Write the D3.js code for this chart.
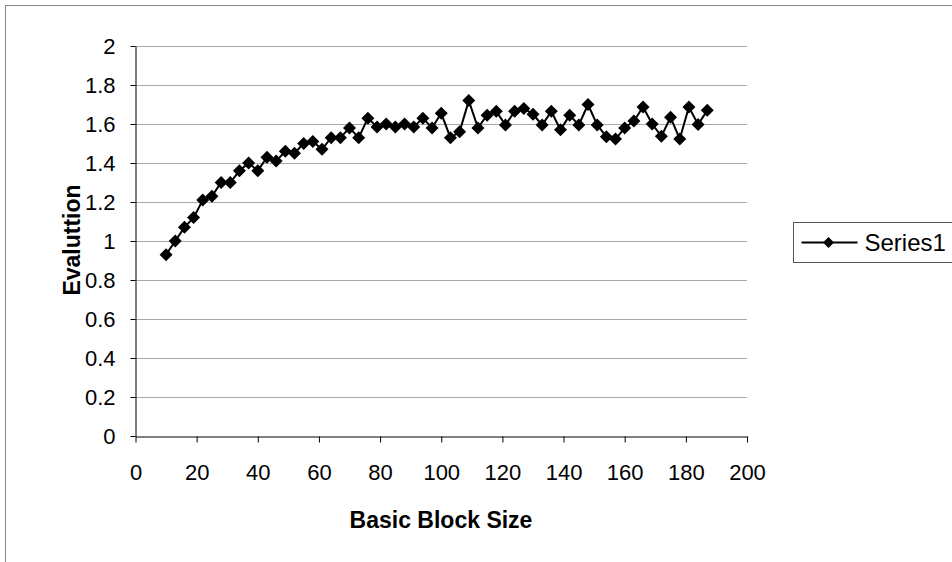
<!DOCTYPE html>
<html>
<head>
<meta charset="utf-8">
<script src="https://cdn.jsdelivr.net/npm/d3@7"></script>
<style>
  body { margin: 0; background: #fff; }
  text { font-family: "Liberation Sans", Arial, sans-serif; fill: #000; }
</style>
</head>
<body>
<div id="chart"></div>
<script>
// block sizes (x) and evaluation values (y)
var blockSizes = [10, 13, 16, 19, 22, 25, 28, 31, 34, 37, 40, 43, 46, 49, 52, 55, 58, 61, 64, 67,
  70, 73, 76, 79, 82, 85, 88, 91, 94, 97, 100, 103, 106, 109, 112, 115, 118, 121, 124, 127,
  130, 133, 136, 139, 142, 145, 148, 151, 154, 157, 160, 163, 166, 169, 172, 175, 178, 181, 184, 187];
var evaluation = [0.93, 1.00, 1.07, 1.12, 1.21, 1.23, 1.30, 1.30, 1.36, 1.40, 1.36, 1.43, 1.41, 1.46, 1.45, 1.50, 1.51, 1.47, 1.53, 1.53,
  1.58, 1.53, 1.63, 1.585, 1.60, 1.585, 1.60, 1.585, 1.63, 1.58, 1.655, 1.53, 1.56, 1.72, 1.58, 1.645, 1.665, 1.595, 1.665, 1.68,
  1.65, 1.595, 1.665, 1.57, 1.645, 1.595, 1.70, 1.595, 1.535, 1.523, 1.58, 1.615, 1.687, 1.60, 1.537, 1.634, 1.523, 1.687, 1.597, 1.67];
var xTicks = [0, 20, 40, 60, 80, 100, 120, 140, 160, 180, 200];
var yTicks = [0, 0.2, 0.4, 0.6, 0.8, 1, 1.2, 1.4, 1.6, 1.8, 2];
var seriesName = "Series1";

var width = 952, height = 562;
var data = blockSizes.map((x, i) => ({ x: x, y: evaluation[i] }));

var svg = d3.select("#chart").append("svg")
  .attr("width", width).attr("height", height);

// outer chart border
svg.append("rect")
  .attr("x", 5.5).attr("y", 5.5)
  .attr("width", width + 10).attr("height", height + 10)
  .attr("fill", "none").attr("stroke", "#888").attr("stroke-width", 1);

var xScale = d3.scaleLinear().domain([0, 200]).range([135.5, 747]);
var yScale = d3.scaleLinear().domain([0, 2]).range([436, 46]);

// gridlines
svg.append("g")
  .selectAll("line")
  .data(yTicks.slice(1))
  .enter().append("line")
  .attr("x1", xScale(0)).attr("x2", xScale(200))
  .attr("y1", d => Math.round(yScale(d)) + 0.5)
  .attr("y2", d => Math.round(yScale(d)) + 0.5)
  .attr("stroke", "#a8a8a8").attr("stroke-width", 1);

/* axes */
var xAxis = d3.axisBottom(xScale).tickValues(xTicks).tickSize(6).tickSizeOuter(0).tickPadding(22);
var yAxis = d3.axisLeft(yScale).tickValues(yTicks).tickFormat(d => String(d))
  .tickSize(5).tickSizeOuter(0).tickPadding(15);

var gx = svg.append("g").attr("transform", "translate(0,436.5)").call(xAxis);
var gy = svg.append("g").attr("transform", "translate(135.5,0)").call(yAxis);
[gx, gy].forEach(g => {
  g.select(".domain").attr("stroke", "#000");
  g.selectAll(".tick line").attr("stroke", "#000");
  g.selectAll("text").style("font-size", "22px").attr("fill", "#000");
});
gy.selectAll(".tick text").attr("dy", "0.36em");

// axis titles
svg.append("text")
  .attr("x", 441).attr("y", 528)
  .attr("text-anchor", "middle")
  .style("font-size", "23px").style("font-weight", "bold")
  .text("Basic Block Size");

svg.append("text")
  .attr("transform", "translate(80,240) rotate(-90)")
  .attr("text-anchor", "middle")
  .style("font-size", "23px").style("font-weight", "bold")
  .text("Evaluttion");

/* series */
var line = d3.line().x(d => xScale(d.x)).y(d => yScale(d.y));
svg.append("path")
  .datum(data)
  .attr("d", line)
  .attr("fill", "none").attr("stroke", "#000").attr("stroke-width", 2);

var r = 6.5;
var diamond = `M0,${-r}L${r},0L0,${r}L${-r},0Z`;
svg.append("g")
  .selectAll("path")
  .data(data)
  .enter().append("path")
  .attr("transform", d => `translate(${xScale(d.x)},${yScale(d.y)})`)
  .attr("d", diamond)
  .attr("fill", "#000");

/* legend */
var legend = svg.append("g").attr("transform", "translate(793.5,222.5)");
legend.append("rect")
  .attr("width", 170).attr("height", 40)
  .attr("fill", "#fff").attr("stroke", "#555").attr("stroke-width", 1);
legend.append("line")
  .attr("x1", 8).attr("x2", 64).attr("y1", 20).attr("y2", 20)
  .attr("stroke", "#000").attr("stroke-width", 2);
legend.append("path")
  .attr("transform", "translate(35,20)")
  .attr("d", `M0,-5.5L5.5,0L0,5.5L-5.5,0Z`)
  .attr("fill", "#000");
legend.append("text")
  .attr("x", 71).attr("y", 20).attr("dy", "0.36em")
  .style("font-size", "24px")
  .text(seriesName);
</script>
</body>
</html>
